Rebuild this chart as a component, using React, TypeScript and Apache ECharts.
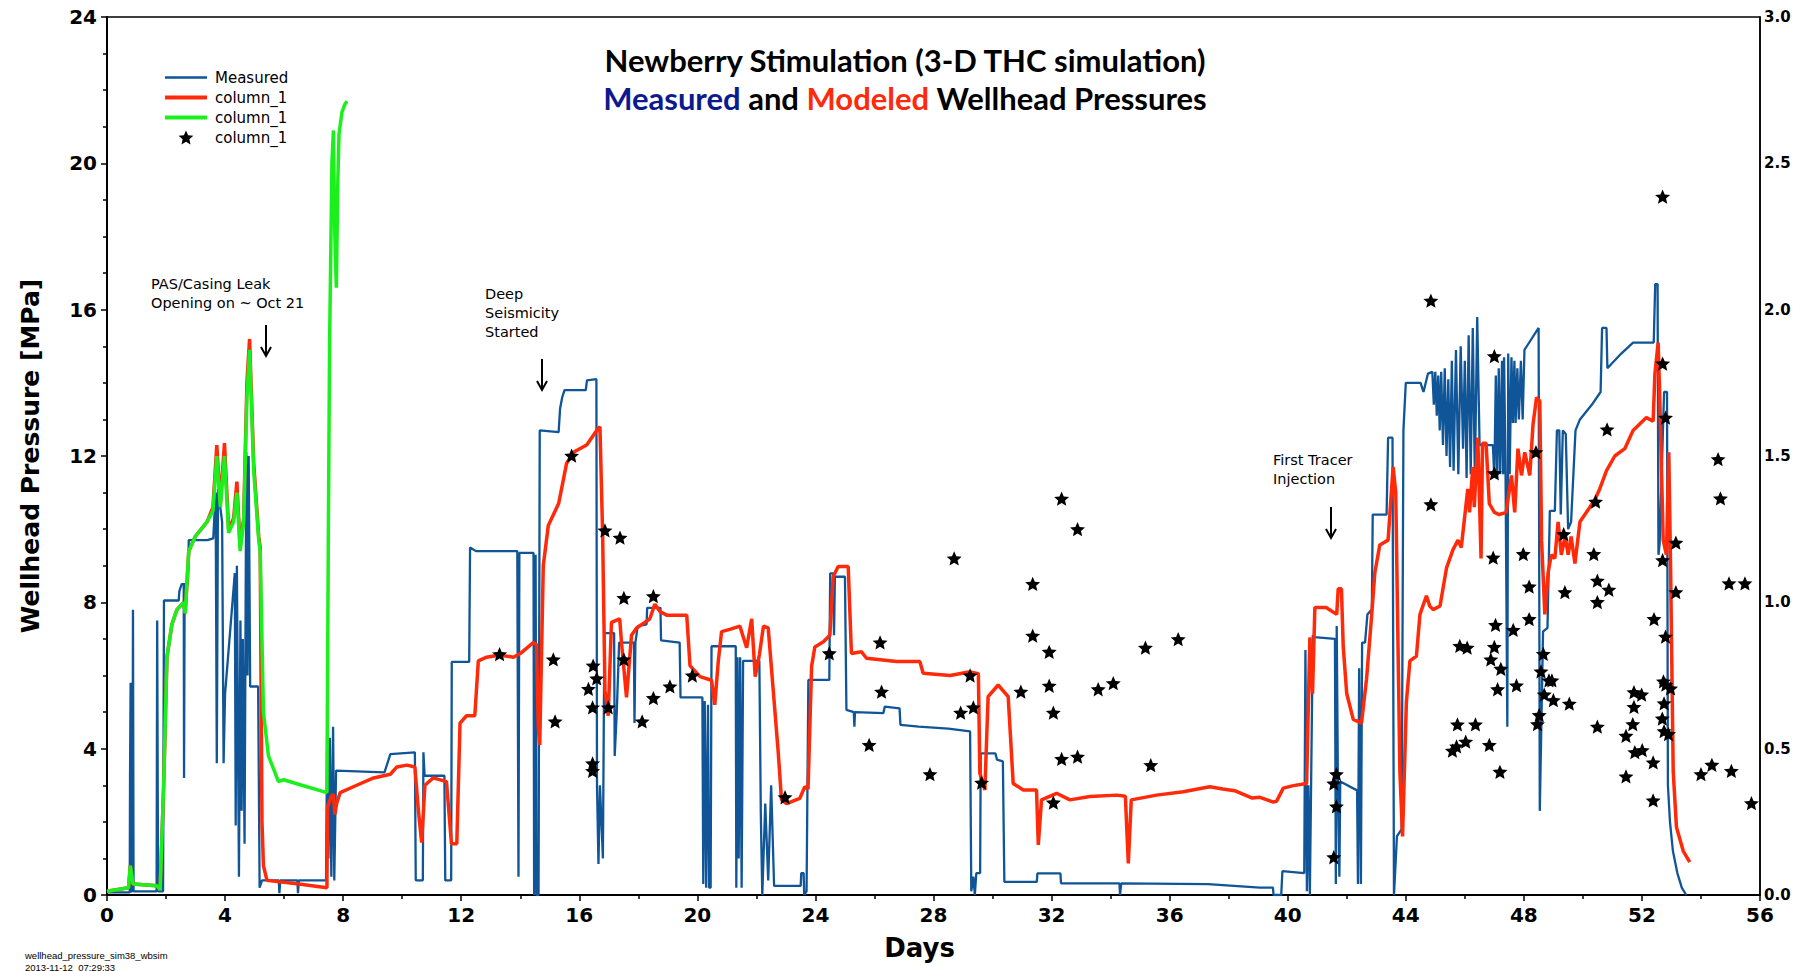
import React, { useEffect, useRef } from "react";
import * as echarts from "echarts";

// ---- axis ranges / ticks ----
const X_MIN = 0, X_MAX = 56, X_STEP = 4;
const Y_MIN = 0, Y_MAX = 24, Y_STEP = 4;
const Y2_MIN = 0, Y2_MAX = 3, Y2_STEP = 0.5;

const TITLE_LINE1 = "Newberry Stimulation (3-D THC simulation)";
const LEGEND_LABELS: Record<string, string> = {
  Measured: "Measured",
  modeled: "column_1",
  modeledEarly: "column_1",
  seismic: "column_1",
};

// ---- Measured wellhead pressure (blue), [day, MPa] ----
const measured: number[][] = [
  [0, 0.07], [0.77, 0.07], [0.78, 3.2], [0.8, 5.8], [0.82, 0.1], [0.86, 0.1], [0.88, 7.8], [0.9, 0.1],
  [1.68, 0.1], [1.7, 7.5], [1.73, 0.1], [1.9, 0.1], [1.93, 8.05], [2.43, 8.05], [2.45, 8.3], [2.53, 8.5],
  [2.6, 8.5], [2.61, 3.2], [2.63, 8.5], [2.74, 8.5], [2.77, 9.7], [3.4, 9.7], [3.6, 9.75], [3.68, 11.0],
  [3.72, 3.6], [3.76, 11.1], [3.9, 10.2], [3.95, 3.6], [4.0, 5.5], [4.33, 8.8], [4.36, 1.9], [4.4, 9.0],
  [4.47, 0.5], [4.52, 7.5], [4.56, 2.3], [4.6, 7.0], [4.66, 1.4], [4.72, 12.1], [4.76, 6.0], [4.8, 12.0],
  [4.85, 5.7], [5.12, 5.7], [5.17, 0.2], [5.25, 0.4], [5.82, 0.4], [5.84, 0.05], [5.87, 0.4], [6.45, 0.4],
  [6.47, 0.05], [6.5, 0.4], [7.42, 0.4], [7.46, 4.5], [7.5, 1.0], [7.55, 4.3], [7.6, 0.5], [7.66, 4.6],
  [7.7, 0.4], [7.76, 3.4], [9.4, 3.35], [9.6, 3.85], [10.43, 3.9], [10.46, 0.4], [10.7, 0.4], [10.72, 3.9],
  [10.76, 3.26], [11.43, 3.26], [11.46, 0.4], [11.66, 0.4], [11.68, 6.37], [12.27, 6.37], [12.3, 9.5],
  [12.5, 9.4], [13.9, 9.4], [13.94, 0.5], [13.97, 9.35], [14.45, 9.35], [14.47, 0.0], [14.52, 9.3],
  [14.55, 0.0], [14.62, 0.0], [14.66, 12.7], [15.3, 12.65], [15.35, 13.3], [15.42, 13.6], [15.5, 13.8],
  [16.22, 13.8], [16.26, 14.07], [16.58, 14.1], [16.6, 3.0], [16.65, 0.85], [16.7, 3.0], [16.8, 1.0],
  [16.85, 7.16], [17.18, 7.16], [17.2, 3.8], [17.27, 5.0], [17.35, 6.9], [17.85, 6.9], [17.87, 4.7],
  [17.9, 6.9], [17.98, 7.35], [18.28, 7.4], [18.3, 7.85], [18.75, 7.85], [18.77, 6.96], [19.4, 6.9],
  [19.43, 5.4], [20.17, 5.4], [20.2, 0.3], [20.25, 5.3], [20.3, 0.2], [20.36, 5.2], [20.4, 0.2],
  [20.45, 0.2], [20.48, 6.8], [21.3, 6.8], [21.32, 0.2], [21.36, 6.5], [21.4, 1.0], [21.45, 6.5],
  [21.5, 0.2], [21.55, 6.4], [22.1, 6.4], [22.15, 2.2], [22.2, 0.0], [22.3, 2.5], [22.4, 0.4],
  [22.5, 3.0], [22.6, 0.25], [23.5, 0.25], [23.52, 0.6], [23.6, 0.6], [23.62, 0.0], [23.7, 0.1],
  [23.76, 5.88], [24.47, 5.88], [24.5, 8.79], [24.6, 8.79], [24.63, 7.1], [24.66, 8.7], [25.0, 8.7],
  [25.05, 5.06], [25.3, 5.0], [25.32, 4.6], [25.34, 5.0], [26.3, 4.97], [26.35, 5.15], [26.85, 5.1],
  [26.88, 4.65], [27.5, 4.6], [28.5, 4.55], [29.24, 4.47], [29.28, 0.1], [29.35, 0.5], [29.4, 0.0],
  [29.45, 0.6], [29.58, 0.6], [29.6, 3.87], [30.1, 3.87], [30.15, 3.7], [30.35, 3.65], [30.4, 0.36],
  [31.5, 0.36], [31.52, 0.59], [32.3, 0.59], [32.32, 0.32], [34.3, 0.32], [34.32, 0.0], [34.36, 0.32],
  [37.3, 0.3], [39.06, 0.2], [39.5, 0.2], [39.52, 0.0], [39.78, 0.0], [39.82, 0.65], [40.56, 0.6],
  [40.6, 6.7], [40.65, 0.1], [40.7, 3.0], [40.75, 0.0], [40.85, 7.1], [40.9, 7.05], [41.6, 7.0],
  [41.63, 0.3], [41.66, 7.35], [41.7, 3.1], [41.75, 0.5], [41.78, 3.1], [42.35, 2.86], [42.38, 0.3],
  [42.42, 6.2], [42.48, 0.3], [42.52, 6.9], [42.62, 6.9], [42.7, 7.67], [42.85, 7.8], [42.88, 10.4],
  [43.35, 10.4], [43.4, 12.5], [43.55, 12.5], [43.6, 0.0], [43.7, 1.6], [43.86, 1.8], [43.92, 12.7],
  [44.0, 14.0], [44.5, 14.0], [44.6, 13.75], [44.75, 14.25], [44.9, 14.3], [44.95, 13.4], [45.0, 14.3],
  [45.05, 13.1], [45.1, 14.2], [45.15, 12.7], [45.2, 14.3], [45.26, 12.3], [45.32, 14.4], [45.38, 12.0],
  [45.44, 14.1], [45.5, 11.7], [45.56, 14.6], [45.62, 11.6], [45.7, 14.9], [45.78, 11.5], [45.86, 15.0],
  [45.94, 12.2], [46.0, 14.6], [46.06, 11.4], [46.13, 15.3], [46.2, 11.5], [46.27, 15.5], [46.34, 11.4],
  [46.42, 15.8], [46.5, 12.3], [46.95, 12.3], [47.0, 11.4], [47.05, 14.2], [47.1, 11.4], [47.15, 14.4],
  [47.2, 11.5], [47.26, 14.6], [47.3, 11.5], [47.33, 14.7], [47.38, 11.5], [47.44, 4.6], [47.47, 14.8],
  [47.52, 11.5], [47.58, 14.7], [47.63, 12.9], [47.68, 14.6], [47.72, 12.9], [47.78, 14.4], [47.83, 13.0],
  [47.9, 14.6], [47.96, 13.0], [48.02, 14.9], [48.1, 15.0], [48.5, 15.5], [48.54, 2.3], [48.65, 7.2],
  [48.8, 7.3], [48.88, 10.5], [49.05, 10.5], [49.12, 12.7], [49.2, 12.7], [49.25, 10.4], [49.32, 12.7],
  [49.42, 12.6], [49.5, 10.0], [49.6, 10.2], [49.75, 12.7], [49.9, 13.0], [50.3, 13.4], [50.6, 13.75],
  [50.65, 15.5], [50.8, 15.5], [50.83, 14.4], [51.3, 14.8], [51.7, 15.1], [52.4, 15.1], [52.45, 16.7],
  [52.53, 16.7], [52.56, 9.3], [52.6, 9.6], [52.75, 13.75], [52.85, 13.75], [52.88, 3.0], [52.95, 2.0],
  [53.05, 1.2], [53.2, 0.6], [53.35, 0.2], [53.5, 0.0],
];

// ---- Modeled wellhead pressure (red), [day, MPa] ----
const modeled: number[][] = [
  [0, 0.1], [0.73, 0.2], [0.79, 0.8], [0.88, 0.3], [1.69, 0.25], [1.8, 0.15], [1.92, 3.0], [2.03, 6.5],
  [2.2, 7.4], [2.37, 7.8], [2.6, 8.0], [2.65, 7.7], [2.77, 9.4], [2.99, 9.8], [3.39, 10.2], [3.59, 10.6],
  [3.72, 12.3], [3.84, 10.7], [3.98, 12.35], [4.12, 10.0], [4.29, 10.3], [4.4, 11.3], [4.51, 9.5],
  [4.63, 10.3], [4.74, 14.0], [4.83, 15.2], [4.97, 11.8], [5.14, 9.8], [5.19, 9.5], [5.25, 2.0],
  [5.3, 0.8], [5.42, 0.4], [6.5, 0.3], [7.45, 0.2], [7.47, 2.4], [7.6, 2.7], [7.67, 2.75], [7.72, 2.2],
  [7.78, 2.5], [7.9, 2.8], [8.46, 3.0], [9.03, 3.2], [9.6, 3.3], [9.82, 3.5], [10.16, 3.55], [10.43, 3.5],
  [10.55, 2.3], [10.66, 1.43], [10.77, 3.0], [11.05, 3.2], [11.5, 3.1], [11.67, 1.4], [11.85, 1.4],
  [11.96, 4.7], [12.18, 4.9], [12.46, 4.9], [12.58, 6.4], [12.86, 6.5], [13.31, 6.56], [13.77, 6.5],
  [14.0, 6.6], [14.44, 6.9], [14.55, 6.85], [14.61, 4.6], [14.66, 4.1], [14.78, 9.0], [14.95, 10.1],
  [15.3, 10.7], [15.57, 11.8], [15.8, 12.1], [16.25, 12.3], [16.59, 12.7], [16.7, 12.8], [16.79, 9.9],
  [16.87, 5.6], [16.98, 4.9], [17.09, 7.45], [17.37, 7.55], [17.43, 6.9], [17.6, 5.4], [17.77, 7.1],
  [17.94, 7.3], [18.22, 7.45], [18.39, 7.55], [18.56, 7.95], [18.73, 7.75], [18.96, 7.65], [19.64, 7.65],
  [19.75, 6.27], [20.09, 5.97], [20.48, 5.87], [20.59, 5.2], [20.71, 6.4], [20.82, 7.2], [21.1, 7.26],
  [21.44, 7.35], [21.67, 6.76], [21.84, 7.55], [21.96, 5.97], [22.1, 6.56], [22.24, 7.35], [22.4, 7.3],
  [22.57, 5.6], [22.74, 3.9], [22.85, 2.6], [23.02, 2.5], [23.47, 2.64], [23.64, 2.96], [23.75, 2.9],
  [23.87, 6.25], [23.98, 6.78], [24.27, 6.92], [24.49, 7.1], [24.6, 8.7], [24.77, 8.98], [25.11, 8.98],
  [25.22, 6.6], [25.56, 6.65], [25.73, 6.47], [26.75, 6.38], [27.54, 6.38], [27.65, 6.06], [28.56, 6.0],
  [29.24, 6.1], [29.52, 6.05], [29.57, 3.33], [29.74, 2.87], [29.85, 5.42], [30.19, 5.74], [30.53, 5.42],
  [30.7, 3.05], [31.04, 2.87], [31.49, 2.87], [31.55, 1.37], [31.66, 2.6], [32.17, 2.78], [32.62, 2.6],
  [33.3, 2.69], [34.2, 2.73], [34.5, 2.7], [34.6, 0.86], [34.7, 2.6], [35.56, 2.73], [36.46, 2.82],
  [37.36, 2.96], [37.8, 2.9], [38.2, 2.85], [38.8, 2.65], [39.06, 2.67], [39.51, 2.54], [39.62, 2.56],
  [39.85, 2.92], [40.19, 2.99], [40.64, 3.05], [40.75, 7.04], [40.84, 5.5], [40.92, 7.86], [41.3, 7.86],
  [41.66, 7.67], [41.71, 8.37], [41.82, 8.37], [41.88, 6.8], [42.0, 5.5], [42.22, 4.8], [42.5, 4.7],
  [42.67, 5.9], [42.84, 7.6], [42.95, 8.8], [43.12, 9.57], [43.4, 9.7], [43.57, 11.7], [43.66, 11.0],
  [43.8, 3.37], [43.89, 1.6], [44.02, 5.27], [44.14, 6.4], [44.36, 6.53], [44.48, 7.67], [44.7, 8.18],
  [44.81, 7.9], [44.93, 7.8], [45.16, 7.9], [45.38, 8.94], [45.6, 9.44], [45.77, 9.7], [45.88, 9.5],
  [46.1, 11.1], [46.16, 10.46], [46.27, 11.7], [46.32, 10.6], [46.44, 12.5], [46.55, 9.2], [46.6, 12.35],
  [46.72, 12.35], [46.83, 10.7], [47.0, 10.46], [47.17, 10.4], [47.4, 10.46], [47.58, 11.47],
  [47.69, 10.46], [47.8, 12.2], [47.92, 11.47], [48.03, 12.1], [48.2, 11.47], [48.31, 12.86],
  [48.43, 13.6], [48.54, 13.5], [48.6, 9.7], [48.71, 7.67], [48.82, 8.8], [48.93, 9.3], [49.05, 9.2],
  [49.16, 10.2], [49.27, 9.3], [49.4, 9.8], [49.5, 9.3], [49.6, 9.8], [49.73, 9.06], [49.9, 10.2],
  [50.12, 10.46], [50.4, 10.8], [50.57, 11.1], [50.8, 11.6], [51.08, 12.0], [51.42, 12.2], [51.7, 12.7],
  [52.15, 13.05], [52.38, 12.95], [52.44, 14.25], [52.55, 15.1], [52.6, 13.75], [52.72, 9.7],
  [52.83, 9.3], [52.91, 12.1], [52.97, 9.0], [53.06, 3.37], [53.17, 1.85], [53.4, 1.2], [53.62, 0.9],
];

// ---- Modeled, early run (green), [day, MPa] ----
const modeledEarly: number[][] = [
  [0, 0.1], [0.73, 0.2], [0.79, 0.8], [0.88, 0.3], [1.69, 0.25], [1.8, 0.15], [1.92, 3.0], [2.03, 6.5],
  [2.2, 7.4], [2.37, 7.8], [2.6, 8.0], [2.65, 7.7], [2.77, 9.4], [2.99, 9.8], [3.39, 10.2], [3.59, 10.5],
  [3.72, 12.0], [3.84, 10.6], [3.98, 12.0], [4.12, 9.9], [4.29, 10.2], [4.4, 11.0], [4.51, 9.4],
  [4.63, 10.2], [4.74, 13.6], [4.83, 14.9], [4.97, 11.6], [5.14, 9.7], [5.19, 9.4], [5.3, 5.0],
  [5.47, 3.8], [5.81, 3.1], [5.98, 3.15], [6.6, 3.0], [7.45, 2.8], [7.5, 10.0], [7.54, 15.0],
  [7.62, 20.0], [7.67, 20.9], [7.72, 18.0], [7.77, 16.6], [7.82, 19.5], [7.86, 20.8], [7.96, 21.4],
  [8.05, 21.6], [8.13, 21.7],
];

// ---- seismic events (stars, right axis), [day, magnitude] ----
const seismic: number[][] = [
  [13.3, 0.823], [15.74, 1.501], [15.12, 0.805], [15.18, 0.593], [16.47, 0.784], [16.59, 0.74],
  [16.31, 0.704], [16.45, 0.641], [16.45, 0.45], [16.45, 0.424], [16.98, 0.641], [16.87, 1.246],
  [17.38, 1.221], [17.51, 1.015], [17.51, 0.805], [18.51, 1.021], [18.13, 0.593], [18.51, 0.673],
  [19.07, 0.713], [19.83, 0.75], [22.97, 0.334], [24.47, 0.826], [26.19, 0.863], [26.24, 0.695],
  [25.82, 0.513], [27.88, 0.413], [28.7, 1.15], [29.24, 0.75], [28.92, 0.623], [29.35, 0.641],
  [29.63, 0.384], [30.96, 0.695], [31.36, 1.063], [31.36, 0.886], [31.92, 0.831], [31.92, 0.715],
  [32.06, 0.623], [32.06, 0.316], [32.34, 1.354], [32.88, 1.25], [32.34, 0.465], [32.88, 0.473],
  [33.58, 0.703], [34.09, 0.724], [35.18, 0.845], [36.29, 0.874], [35.36, 0.444], [41.65, 0.413],
  [41.56, 0.381], [41.65, 0.303], [41.56, 0.129], [44.85, 2.031], [44.85, 1.335], [47.0, 1.841],
  [47.0, 1.441], [46.96, 1.153], [45.83, 0.851], [46.08, 0.845], [47.04, 0.923], [47.0, 0.848],
  [46.88, 0.805], [47.22, 0.773], [47.11, 0.703], [47.64, 0.906], [47.75, 0.716], [45.75, 0.583],
  [46.36, 0.583], [46.03, 0.524], [45.72, 0.508], [45.58, 0.493], [46.83, 0.513], [47.19, 0.421],
  [52.7, 2.386], [52.7, 1.816], [52.8, 1.631], [50.82, 1.591], [48.41, 1.513], [50.43, 1.344],
  [49.35, 1.233], [47.98, 1.165], [50.37, 1.165], [53.15, 1.204], [52.7, 1.144], [48.18, 1.054],
  [49.39, 1.035], [50.49, 1.074], [50.88, 1.043], [50.49, 1.001], [53.15, 1.035], [48.18, 0.943],
  [52.41, 0.943], [52.8, 0.883], [48.66, 0.824], [48.58, 0.764], [48.85, 0.733], [48.95, 0.733],
  [48.69, 0.685], [49.0, 0.666], [49.54, 0.654], [48.52, 0.615], [48.46, 0.584], [50.49, 0.575],
  [51.73, 0.693], [51.99, 0.685], [51.73, 0.643], [51.69, 0.584], [51.46, 0.544], [51.76, 0.488],
  [52.01, 0.495], [51.46, 0.405], [52.38, 0.453], [52.38, 0.323], [52.73, 0.73], [52.81, 0.719],
  [52.97, 0.706], [52.75, 0.655], [52.69, 0.603], [52.75, 0.56], [52.9, 0.55], [54.58, 1.489],
  [54.66, 1.355], [54.95, 1.065], [55.49, 1.065], [54.0, 0.413], [54.37, 0.445], [55.03, 0.424],
  [55.71, 0.314],
];

const STAR =
  "path://M12,0 L15.23,7.55 L23.41,8.29 L17.23,13.7 L19.05,21.71 L12,17.5 L4.95,21.71 L6.77,13.7 L0.59,8.29 L8.77,7.55 Z";
const ICON_THIN = "path://M0,0 L42,0 L42,2.4 L0,2.4 Z";
const ICON_THICK = "path://M0,0 L42,0 L42,4 L0,4 Z";

const BLUE = "#0f5597";
const RED = "#ff2a0a";
const GREEN = "#1cf01c";

function arrow(x: number, y1: number, y2: number) {
  return {
    type: "group",
    children: [
      { type: "line", shape: { x1: x, y1, x2: x, y2 }, style: { stroke: "#000", lineWidth: 2 } },
      {
        type: "polyline",
        shape: { points: [[x - 5, y2 - 9], [x, y2], [x + 5, y2 - 9]] },
        style: { stroke: "#000", lineWidth: 2, fill: null },
      },
    ],
  };
}

function annotation(x: number, y: number, text: string) {
  return {
    type: "text",
    x,
    y,
    style: {
      text,
      fontFamily: "DejaVu Sans",
      fontSize: 14.5,
      lineHeight: 19,
      fill: "#000",
      textVerticalAlign: "top",
    },
  };
}

export default function App() {
  const ref = useRef<HTMLDivElement>(null);

  useEffect(() => {
    if (!ref.current) return;
    const chart = echarts.init(ref.current, undefined, { renderer: "svg" });
    const tickFont = { fontFamily: "DejaVu Sans", fontWeight: "bold" as const, color: "#000" };
    const titleFont = { fontFamily: "Lato", fontWeight: "bold" as const, fontSize: 31, lineHeight: 38 };
    chart.setOption({
      animation: false,
      backgroundColor: "#fff",
      title: {
        left: 900,
        textAlign: "center",
        top: 36,
        text: TITLE_LINE1 + "\n{b|Measured} and {r|Modeled} Wellhead Pressures",
        textStyle: {
          ...titleFont,
          color: "#000",
          rich: {
            b: { ...titleFont, color: "#0d1a8f" },
            r: { ...titleFont, color: RED },
          },
        },
      },
      legend: {
        orient: "vertical",
        left: 160,
        top: 65,
        itemWidth: 42,
        itemHeight: 14,
        itemGap: 5,
        symbolKeepAspect: true,
        formatter: (name: string) => LEGEND_LABELS[name] ?? name,
        textStyle: { fontFamily: "DejaVu Sans", fontSize: 15, color: "#000", padding: [0, 0, 0, 3] },
        data: [
          { name: "Measured", icon: ICON_THIN, itemStyle: { color: BLUE, borderWidth: 0 } },
          { name: "modeled", icon: ICON_THICK, itemStyle: { color: RED, borderWidth: 0 } },
          { name: "modeledEarly", icon: ICON_THICK, itemStyle: { color: GREEN, borderWidth: 0 } },
          { name: "seismic" },
        ],
      },
      grid: {
        left: 107,
        right: 48,
        top: 17,
        bottom: 76,
        show: true,
        borderColor: "#000",
        borderWidth: 1.5,
        backgroundColor: "transparent",
      },
      xAxis: {
        type: "value",
        min: X_MIN,
        max: X_MAX,
        interval: X_STEP,
        name: "Days",
        nameLocation: "middle",
        nameGap: 40,
        nameTextStyle: { ...tickFont, fontSize: 26, padding: [0, 28, 0, 0] },
        axisLine: { show: true, lineStyle: { color: "#000", width: 2 } },
        axisTick: { show: true, length: 6, lineStyle: { color: "#000", width: 1.5 } },
        minorTick: { show: true, splitNumber: 2, length: 4, lineStyle: { color: "#000", width: 1.5 } },
        axisLabel: { ...tickFont, fontSize: 20, margin: 10 },
        splitLine: { show: false },
      },
      yAxis: [
        {
          type: "value",
          min: Y_MIN,
          max: Y_MAX,
          interval: Y_STEP,
          name: "Wellhead Pressure [MPa]",
          nameLocation: "middle",
          nameGap: 64,
          nameTextStyle: { ...tickFont, fontSize: 25 },
          axisLine: { show: true, lineStyle: { color: "#000", width: 2 } },
          axisTick: { show: true, length: 6, lineStyle: { color: "#000", width: 1.5 } },
          minorTick: { show: true, splitNumber: 4, length: 4, lineStyle: { color: "#000", width: 1.5 } },
          axisLabel: { ...tickFont, fontSize: 20, margin: 10 },
          splitLine: { show: false },
        },
        {
          type: "value",
          position: "right",
          min: Y2_MIN,
          max: Y2_MAX,
          interval: Y2_STEP,
          axisLine: { show: true, lineStyle: { color: "#000", width: 1.5 } },
          axisTick: { show: false },
          axisLabel: { ...tickFont, fontSize: 15, margin: 4, formatter: (v: number) => v.toFixed(1) },
          splitLine: { show: false },
        },
      ],
      series: [
        {
          name: "Measured",
          type: "line",
          data: measured,
          symbol: "none",
          lineStyle: { color: BLUE, width: 2.3 },
          itemStyle: { color: BLUE },
          z: 2,
        },
        {
          name: "modeled",
          type: "line",
          data: modeled,
          symbol: "none",
          lineStyle: { color: RED, width: 3.5 },
          itemStyle: { color: RED },
          z: 3,
        },
        {
          name: "modeledEarly",
          type: "line",
          data: modeledEarly,
          symbol: "none",
          lineStyle: { color: GREEN, width: 3.5 },
          itemStyle: { color: GREEN },
          z: 4,
        },
        {
          name: "seismic",
          type: "scatter",
          yAxisIndex: 1,
          data: seismic,
          symbol: STAR,
          symbolSize: 15,
          symbolKeepAspect: true,
          itemStyle: { color: "#000", opacity: 1 },
          z: 5,
        },
      ],
      graphic: [
        annotation(151, 274, "PAS/Casing Leak\nOpening on ~ Oct 21"),
        arrow(266, 325, 356),
        annotation(485, 284, "Deep\nSeismicity\nStarted"),
        arrow(542, 359, 390),
        annotation(1273, 450, "First Tracer\nInjection"),
        arrow(1331, 507, 538),
        {
          type: "text",
          x: 25,
          y: 949,
          style: {
            text: "wellhead_pressure_sim38_wbsim\n2013-11-12  07:29:33",
            fontFamily: "Liberation Sans",
            fontSize: 9.5,
            lineHeight: 12,
            fill: "#000",
            textVerticalAlign: "top",
          },
        },
      ],
    });
    return () => chart.dispose();
  }, []);

  return (
    <div
      ref={ref}
      style={{ position: "fixed", left: 0, top: 0, width: 1808, height: 971, background: "#fff" }}
    />
  );
}
